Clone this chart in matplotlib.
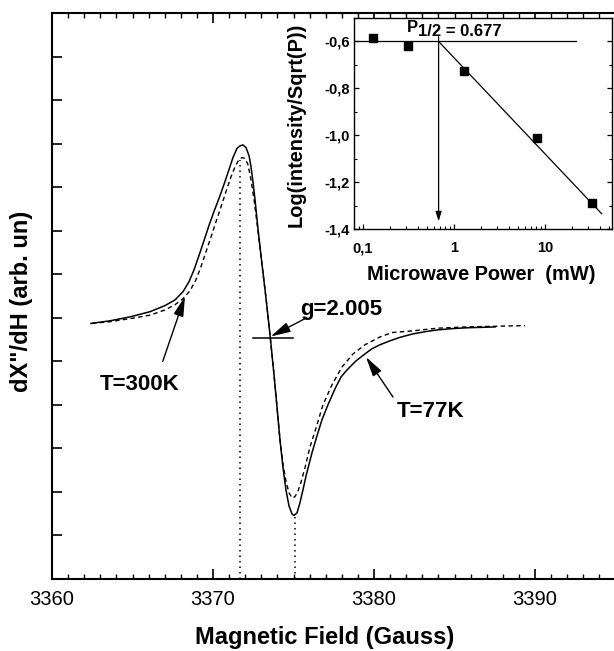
import numpy as np
import matplotlib
matplotlib.use("Agg")
import matplotlib.pyplot as plt
from matplotlib.ticker import MultipleLocator, FixedLocator, LogLocator, NullFormatter

plt.rcParams['font.family'] = ['Liberation Sans', 'DejaVu Sans']

# EPR spectrum (field in Gauss, signal in arb. units)
field_77 = [3362.42, 3363.60, 3364.84, 3366.09, 3367.02, 3367.64, 3368.14, 3368.51,
            3368.82, 3369.13, 3369.44, 3369.75, 3370.06, 3370.37, 3370.68, 3370.99,
            3371.24, 3371.49, 3371.68, 3371.86, 3372.05, 3372.24, 3372.36, 3372.48,
            3372.61, 3372.80, 3373.04, 3373.29, 3373.54, 3373.79, 3373.98, 3374.16,
            3374.35, 3374.53, 3374.72, 3374.91, 3375.03, 3375.22, 3375.40, 3375.59,
            3375.78, 3376.15, 3376.46, 3376.77, 3377.14, 3377.58, 3377.95, 3378.32,
            3378.88, 3379.44, 3379.88, 3380.37, 3380.99, 3381.61, 3382.42, 3383.17,
            3383.91, 3384.84, 3385.78, 3387.52]
signal_77 = [5.87, 5.93, 6.02, 6.14, 6.28, 6.41, 6.60, 6.83,
             7.10, 7.43, 7.77, 8.12, 8.44, 8.74, 9.06, 9.40,
             9.68, 9.89, 9.95, 9.97, 9.91, 9.72, 9.47, 9.13,
             8.71, 8.02, 7.24, 6.46, 5.61, 4.69, 3.93, 3.20,
             2.55, 2.05, 1.68, 1.49, 1.46, 1.52, 1.75, 2.05,
             2.37, 2.90, 3.29, 3.66, 4.00, 4.37, 4.64, 4.80,
             5.01, 5.17, 5.29, 5.38, 5.47, 5.55, 5.63, 5.68,
             5.72, 5.75, 5.77, 5.79]

field_300 = [3362.48, 3363.60, 3364.84, 3366.09, 3367.02, 3367.64, 3368.14, 3368.57,
             3368.94, 3369.25, 3369.57, 3369.88, 3370.19, 3370.50, 3370.81, 3371.12,
             3371.37, 3371.61, 3371.80, 3371.99, 3372.17, 3372.36, 3372.55, 3372.80,
             3373.04, 3373.29, 3373.54, 3373.79, 3373.98, 3374.16, 3374.35, 3374.53,
             3374.72, 3374.91, 3375.09, 3375.28, 3375.47, 3375.71, 3376.02, 3376.40,
             3376.83, 3377.39, 3378.01, 3378.70, 3379.44, 3380.37, 3381.12, 3382.42,
             3383.91, 3385.78, 3389.38]
signal_300 = [5.87, 5.91, 5.98, 6.06, 6.18, 6.30, 6.44, 6.62,
              6.87, 7.17, 7.52, 7.86, 8.21, 8.55, 8.90, 9.24,
              9.47, 9.63, 9.68, 9.66, 9.52, 9.17, 8.71, 7.98,
              7.24, 6.46, 5.61, 4.69, 3.93, 3.20, 2.64, 2.25,
              1.98, 1.86, 1.89, 2.02, 2.23, 2.55, 3.03, 3.47,
              4.00, 4.46, 4.87, 5.17, 5.38, 5.56, 5.66, 5.70,
              5.76, 5.79, 5.82]

peak_field = 3371.7
peak_signal = 9.63
trough_field = 3375.07
trough_signal = 1.47
g_field = [3372.48, 3374.97]
g_level = 5.54

# saturation inset
power = [0.13, 0.315, 1.30, 8.2, 33.0]
log_int = [-0.587, -0.619, -0.728, -1.010, -1.288]
p_half = 0.677
plateau = -0.6
fit_power = [p_half, 42.0]
fit_log = [-0.6, -1.335]

fig = plt.figure(figsize=(6.14, 6.51), dpi=100)
ax = fig.add_axes([52 / 614, 72 / 651, 563.5 / 614, 566 / 651])

ax.plot(field_77, signal_77, color='black', lw=1.1)
ax.plot(field_300, signal_300, color='black', lw=1.0, linestyle=(0, (3.2, 2.4)))
ax.plot([peak_field, peak_field], [0, peak_signal], color='black', lw=1.1,
        linestyle=(0, (1, 2.6)))
ax.plot([trough_field, trough_field], [0, trough_signal - 0.05], color='black', lw=1.1,
        linestyle=(0, (1, 2.6)))
ax.plot(g_field, [g_level, g_level], color='black', lw=1.1)

arrow = dict(arrowstyle='-|>,head_length=1.1,head_width=0.28', color='black', lw=1.0,
             mutation_scale=11, shrinkA=0, shrinkB=0)
ax.annotate('', xy=(3373.58, 5.57), xytext=(3375.82, 6.0), arrowprops=arrow)
ax.annotate('', xy=(3368.26, 6.49), xytext=(3366.88, 5.0), arrowprops=arrow)
ax.annotate('', xy=(3379.50, 5.10), xytext=(3381.18, 4.18), arrowprops=arrow)
ax.text(3375.40, 6.07, 'g=2.005', fontsize=16, fontweight='bold', va='baseline')
ax.text(3362.98, 4.34, 'T=300K', fontsize=16, fontweight='bold', va='baseline')
ax.text(3381.43, 3.72, 'T=77K', fontsize=16, fontweight='bold', va='baseline')

ax.set_xlim(3360, 3395)
ax.set_ylim(0, 13)
ax.xaxis.set_major_locator(MultipleLocator(10))
ax.xaxis.set_minor_locator(MultipleLocator(1))
ax.yaxis.set_major_locator(MultipleLocator(1))
ax.set_yticklabels([])
ax.tick_params(axis='x', which='major', direction='in', length=7, width=1.2,
               top=True, labelsize=14.5, pad=8)
ax.tick_params(axis='x', which='minor', direction='in', length=3.5, width=1.0, top=True)
ax.tick_params(axis='y', which='major', direction='in', length=7, width=1.2, left=True)
for s in ax.spines.values():
    s.set_linewidth(1.5)

fig.text(325 / 614, 7 / 651, 'Magnetic Field (Gauss)', fontsize=17, fontweight='bold',
         ha='center', va='baseline')
fig.text(22 / 614, 350 / 651, 'dX"/dH (arb. un)', fontsize=17, fontweight='bold',
         ha='center', va='center', rotation=90)

# inset
ins = fig.add_axes([354 / 614, 422 / 651, 258 / 614, 211 / 651])
ins.set_xscale('log')
ins.plot(power, log_int, 's', color='black', ms=5.5)
ins.plot([0.0796, 21.9], [plateau, plateau], color='black', lw=0.9)
ins.plot(fit_power, fit_log, color='black', lw=0.9)
ins.annotate('', xy=(p_half, -1.367), xytext=(p_half, -0.58),
             arrowprops=dict(arrowstyle='-|>,head_length=0.7,head_width=0.22', color='black',
                             lw=0.9, mutation_scale=8, shrinkA=0, shrinkB=0))
ins.text(0.304, -0.561, 'P', fontsize=12, fontweight='bold', va='baseline')
ins.text(0.405, -0.576, '1/2 = 0.677', fontsize=12, fontweight='bold', va='baseline')

ins.set_xlim(0.0796, 54.5)
ins.set_ylim(-1.4, -0.5)
ins.xaxis.set_major_locator(FixedLocator([0.1, 1, 10]))
ins.set_xticklabels(['0,1', '1', '10'])
ins.xaxis.set_minor_locator(LogLocator(base=10, subs=np.arange(2, 10)))
ins.xaxis.set_minor_formatter(NullFormatter())
ins.yaxis.set_major_locator(FixedLocator([-0.6, -0.8, -1.0, -1.2, -1.4]))
ins.set_yticklabels(['-0,6', '-0,8', '-1,0', '-1,2', '-1,4'])
ins.yaxis.set_minor_locator(MultipleLocator(0.1))
ins.tick_params(axis='both', which='major', direction='in', length=3.5, width=0.9,
                labelsize=10.5)
ins.tick_params(axis='both', which='minor', direction='in', length=2, width=0.8)
ins.tick_params(axis='y', which='both', right=True, pad=3)
ins.tick_params(axis='x', which='major', pad=9)
for lab in ins.get_xticklabels() + ins.get_yticklabels():
    lab.set_fontweight('bold')
for s in ins.spines.values():
    s.set_linewidth(1.0)

fig.text(481.5 / 614, 371 / 651, 'Microwave Power  (mW)', fontsize=14.4, fontweight='bold',
         ha='center', va='baseline')
fig.text(296.5 / 614, 526.5 / 651, 'Log(intensity/Sqrt(P))', fontsize=14.4,
         fontweight='bold', ha='center', va='center', rotation=90)

fig.savefig('out.png', dpi=100)
